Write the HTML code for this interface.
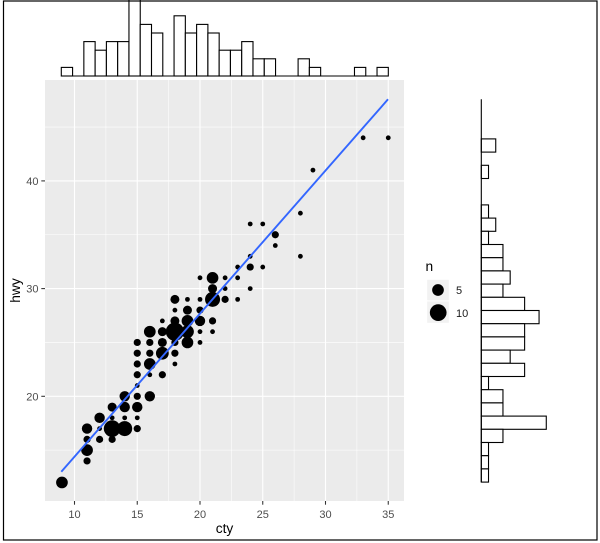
<!DOCTYPE html>
<html><head><meta charset="utf-8"><style>
html,body{margin:0;padding:0;background:#fff;}
svg{display:block;}
text{font-family:"Liberation Sans",Arial,sans-serif;}
</style></head><body>
<svg width="600" height="543" viewBox="0 0 600 543" xmlns="http://www.w3.org/2000/svg">
<rect x="0" y="0" width="600" height="543" fill="#fff"/>
<!-- panel -->
<rect x="45" y="80" width="359" height="421" fill="#EBEBEB"/>
<g stroke="#fff" stroke-width="0.55">
<line x1="105.9" y1="80" x2="105.9" y2="501"/><line x1="168.6" y1="80" x2="168.6" y2="501"/><line x1="231.4" y1="80" x2="231.4" y2="501"/><line x1="294.1" y1="80" x2="294.1" y2="501"/><line x1="356.9" y1="80" x2="356.9" y2="501"/>
<line x1="45" y1="450.15" x2="404" y2="450.15"/><line x1="45" y1="342.45" x2="404" y2="342.45"/><line x1="45" y1="234.75" x2="404" y2="234.75"/><line x1="45" y1="127.05" x2="404" y2="127.05"/>
</g>
<g stroke="#fff" stroke-width="1.1">
<line x1="74.5" y1="80" x2="74.5" y2="501"/><line x1="137.25" y1="80" x2="137.25" y2="501"/><line x1="200" y1="80" x2="200" y2="501"/><line x1="262.75" y1="80" x2="262.75" y2="501"/><line x1="325.5" y1="80" x2="325.5" y2="501"/><line x1="388.25" y1="80" x2="388.25" y2="501"/>
<line x1="45" y1="396.3" x2="404" y2="396.3"/><line x1="45" y1="288.6" x2="404" y2="288.6"/><line x1="45" y1="180.9" x2="404" y2="180.9"/>
</g>
<!-- points -->
<g fill="#000">
<circle cx="61.95" cy="482.46" r="5.85"/>
<circle cx="87.05" cy="460.92" r="3.6"/><circle cx="87.05" cy="450.15" r="5.85"/><circle cx="87.05" cy="439.38" r="3.6"/><circle cx="87.05" cy="428.61" r="5.2"/>
<circle cx="99.6" cy="439.38" r="3.6"/><circle cx="99.6" cy="428.61" r="2.4"/><circle cx="99.6" cy="417.84" r="5.2"/>
<circle cx="112.15" cy="439.38" r="3.6"/><circle cx="112.15" cy="428.61" r="8.35"/><circle cx="112.15" cy="417.84" r="2.4"/><circle cx="112.15" cy="407.07" r="4.5"/>
<circle cx="124.7" cy="428.61" r="7.5"/><circle cx="124.7" cy="417.84" r="2.4"/><circle cx="124.7" cy="407.07" r="5.2"/><circle cx="124.7" cy="396.3" r="5.2"/>
<circle cx="137.25" cy="428.61" r="3.6"/><circle cx="137.25" cy="417.84" r="2.4"/><circle cx="137.25" cy="407.07" r="5.2"/><circle cx="137.25" cy="396.3" r="3.6"/><circle cx="137.25" cy="385.53" r="2.4"/><circle cx="137.25" cy="374.76" r="3.6"/><circle cx="137.25" cy="363.99" r="3.6"/><circle cx="137.25" cy="353.22" r="3.6"/><circle cx="137.25" cy="342.45" r="3.6"/>
<circle cx="149.8" cy="396.3" r="5.2"/><circle cx="149.8" cy="374.76" r="2.4"/><circle cx="149.8" cy="363.99" r="5.85"/><circle cx="149.8" cy="353.22" r="3.6"/><circle cx="149.8" cy="342.45" r="3.6"/><circle cx="149.8" cy="331.68" r="5.85"/>
<circle cx="162.35" cy="374.76" r="3.6"/><circle cx="162.35" cy="353.22" r="6.4"/><circle cx="162.35" cy="342.45" r="4.5"/><circle cx="162.35" cy="331.68" r="4.5"/><circle cx="162.35" cy="320.91" r="2.4"/>
<circle cx="174.9" cy="363.99" r="2.4"/><circle cx="174.9" cy="353.22" r="3.6"/><circle cx="174.9" cy="342.45" r="3.6"/><circle cx="174.9" cy="331.68" r="9.15"/><circle cx="174.9" cy="320.91" r="4.5"/><circle cx="174.9" cy="310.14" r="2.4"/><circle cx="174.9" cy="299.37" r="4.5"/>
<circle cx="187.45" cy="342.45" r="5.85"/><circle cx="187.45" cy="331.68" r="6.4"/><circle cx="187.45" cy="320.91" r="5.85"/><circle cx="187.45" cy="310.14" r="4.5"/><circle cx="187.45" cy="299.37" r="2.4"/>
<circle cx="200" cy="342.45" r="2.4"/><circle cx="200" cy="331.68" r="2.4"/><circle cx="200" cy="320.91" r="5.2"/><circle cx="200" cy="310.14" r="3.6"/><circle cx="200" cy="299.37" r="2.4"/><circle cx="200" cy="277.83" r="2.4"/>
<circle cx="212.55" cy="331.68" r="2.4"/><circle cx="212.55" cy="320.91" r="3.6"/><circle cx="212.55" cy="299.37" r="7.5"/><circle cx="212.55" cy="288.6" r="4.5"/><circle cx="212.55" cy="277.83" r="5.85"/>
<circle cx="225.1" cy="299.37" r="3.6"/><circle cx="225.1" cy="288.6" r="2.4"/><circle cx="225.1" cy="277.83" r="2.4"/>
<circle cx="237.65" cy="299.37" r="2.4"/><circle cx="237.65" cy="277.83" r="2.4"/><circle cx="237.65" cy="267.06" r="2.4"/>
<circle cx="250.2" cy="288.6" r="2.4"/><circle cx="250.2" cy="267.06" r="3.6"/><circle cx="250.2" cy="256.29" r="2.4"/><circle cx="250.2" cy="223.98" r="2.4"/>
<circle cx="262.75" cy="267.06" r="2.4"/><circle cx="262.75" cy="223.98" r="2.4"/>
<circle cx="275.3" cy="245.52" r="2.4"/><circle cx="275.3" cy="234.75" r="3.6"/>
<circle cx="300.4" cy="256.29" r="2.4"/><circle cx="300.4" cy="213.21" r="2.4"/>
<circle cx="312.95" cy="170.13" r="2.4"/>
<circle cx="363.15" cy="137.82" r="2.4"/><circle cx="388.25" cy="137.82" r="2.4"/>
</g>
<!-- smooth -->
<line x1="61.3" y1="471.7" x2="388" y2="99.3" stroke="#3366FF" stroke-width="1.9" stroke-linecap="butt"/>
<!-- axes ticks -->
<g stroke="#333" stroke-width="1.07">
<line x1="74.5" y1="501" x2="74.5" y2="504.7"/><line x1="137.25" y1="501" x2="137.25" y2="504.7"/><line x1="200" y1="501" x2="200" y2="504.7"/><line x1="262.75" y1="501" x2="262.75" y2="504.7"/><line x1="325.5" y1="501" x2="325.5" y2="504.7"/><line x1="388.25" y1="501" x2="388.25" y2="504.7"/>
<line x1="41.3" y1="396.3" x2="45" y2="396.3"/><line x1="41.3" y1="288.6" x2="45" y2="288.6"/><line x1="41.3" y1="180.9" x2="45" y2="180.9"/>
</g>
<g fill="#4D4D4D" font-size="11" text-anchor="middle">
<text x="74.5" y="518">10</text><text x="137.25" y="518">15</text><text x="200" y="518">20</text><text x="262.75" y="518">25</text><text x="325.5" y="518">30</text><text x="388.25" y="518">35</text>
</g>
<g fill="#4D4D4D" font-size="11" text-anchor="end">
<text x="38.5" y="400.3">20</text><text x="38.5" y="292.6">30</text><text x="38.5" y="184.9">40</text>
</g>
<text x="224.5" y="533" font-size="13.75" text-anchor="middle" fill="#000">cty</text>
<text transform="translate(20 290.5) rotate(-90)" x="0" y="0" font-size="13.75" text-anchor="middle" fill="#000">hwy</text>
<!-- top histogram -->
<g fill="#fff" stroke="#000" stroke-width="1.1">
<rect x="61.3" y="67.4" width="11.28" height="8.6"/>
<rect x="83.85" y="41.6" width="11.28" height="34.4"/>
<rect x="95.13" y="50.2" width="11.28" height="25.8"/>
<rect x="106.4" y="41.6" width="11.28" height="34.4"/>
<rect x="117.68" y="41.6" width="11.28" height="34.4"/>
<rect x="128.96" y="-3" width="11.28" height="79"/>
<rect x="140.23" y="24.4" width="11.28" height="51.6"/>
<rect x="151.51" y="33" width="11.28" height="43"/>
<rect x="174.06" y="15.8" width="11.28" height="60.2"/>
<rect x="185.34" y="33" width="11.28" height="43"/>
<rect x="196.61" y="24.4" width="11.28" height="51.6"/>
<rect x="207.89" y="33" width="11.28" height="43"/>
<rect x="219.16" y="50.2" width="11.28" height="25.8"/>
<rect x="230.44" y="50.2" width="11.28" height="25.8"/>
<rect x="241.72" y="41.6" width="11.28" height="34.4"/>
<rect x="252.99" y="58.8" width="11.28" height="17.2"/>
<rect x="264.27" y="58.8" width="11.28" height="17.2"/>
<rect x="298.1" y="58.8" width="11.28" height="17.2"/>
<rect x="309.37" y="67.4" width="11.28" height="8.6"/>
<rect x="354.48" y="67.4" width="11.28" height="8.6"/>
<rect x="377.03" y="67.4" width="11.28" height="8.6"/>
<line x1="61.3" y1="76" x2="388.3" y2="76"/>
</g>
<!-- right histogram -->
<g fill="#fff" stroke="#000" stroke-width="1.1">
<rect x="481.3" y="138.9" width="14.44" height="13.2"/>
<rect x="481.3" y="165.3" width="7.22" height="13.2"/>
<rect x="481.3" y="204.9" width="7.22" height="13.2"/>
<rect x="481.3" y="218.1" width="14.44" height="13.2"/>
<rect x="481.3" y="231.3" width="7.22" height="13.2"/>
<rect x="481.3" y="244.5" width="21.66" height="13.2"/>
<rect x="481.3" y="257.7" width="21.66" height="13.2"/>
<rect x="481.3" y="270.9" width="28.88" height="13.2"/>
<rect x="481.3" y="284.1" width="21.66" height="13.2"/>
<rect x="481.3" y="297.3" width="43.32" height="13.2"/>
<rect x="481.3" y="310.5" width="57.76" height="13.2"/>
<rect x="481.3" y="323.7" width="43.32" height="13.2"/>
<rect x="481.3" y="336.9" width="43.32" height="13.2"/>
<rect x="481.3" y="350.1" width="28.88" height="13.2"/>
<rect x="481.3" y="363.3" width="43.32" height="13.2"/>
<rect x="481.3" y="376.5" width="7.22" height="13.2"/>
<rect x="481.3" y="389.7" width="21.66" height="13.2"/>
<rect x="481.3" y="402.9" width="21.66" height="13.2"/>
<rect x="481.3" y="416.1" width="64.98" height="13.2"/>
<rect x="481.3" y="429.3" width="21.66" height="13.2"/>
<rect x="481.3" y="442.5" width="7.22" height="13.2"/>
<rect x="481.3" y="455.7" width="7.22" height="13.2"/>
<rect x="481.3" y="468.9" width="7.22" height="13.2"/>
<line x1="481.3" y1="99.3" x2="481.3" y2="482.1"/>
</g>
<!-- legend -->
<text x="425.5" y="271" font-size="13.75" fill="#000">n</text>
<rect x="426.7" y="279.3" width="22.6" height="21.6" fill="#F2F2F2" stroke="#fff" stroke-width="1"/>
<rect x="426.7" y="300.9" width="22.6" height="22.4" fill="#F2F2F2" stroke="#fff" stroke-width="1"/>
<circle cx="438" cy="290" r="5.85" fill="#000"/>
<circle cx="438.2" cy="312.6" r="8.35" fill="#000"/>
<text x="456" y="294" font-size="11" fill="#1a1a1a">5</text>
<text x="456" y="317" font-size="11" fill="#1a1a1a">10</text>
<!-- outer border -->
<rect x="3.5" y="1" width="593.5" height="539" fill="none" stroke="#000" stroke-width="1.2"/>
</svg>
</body></html>
